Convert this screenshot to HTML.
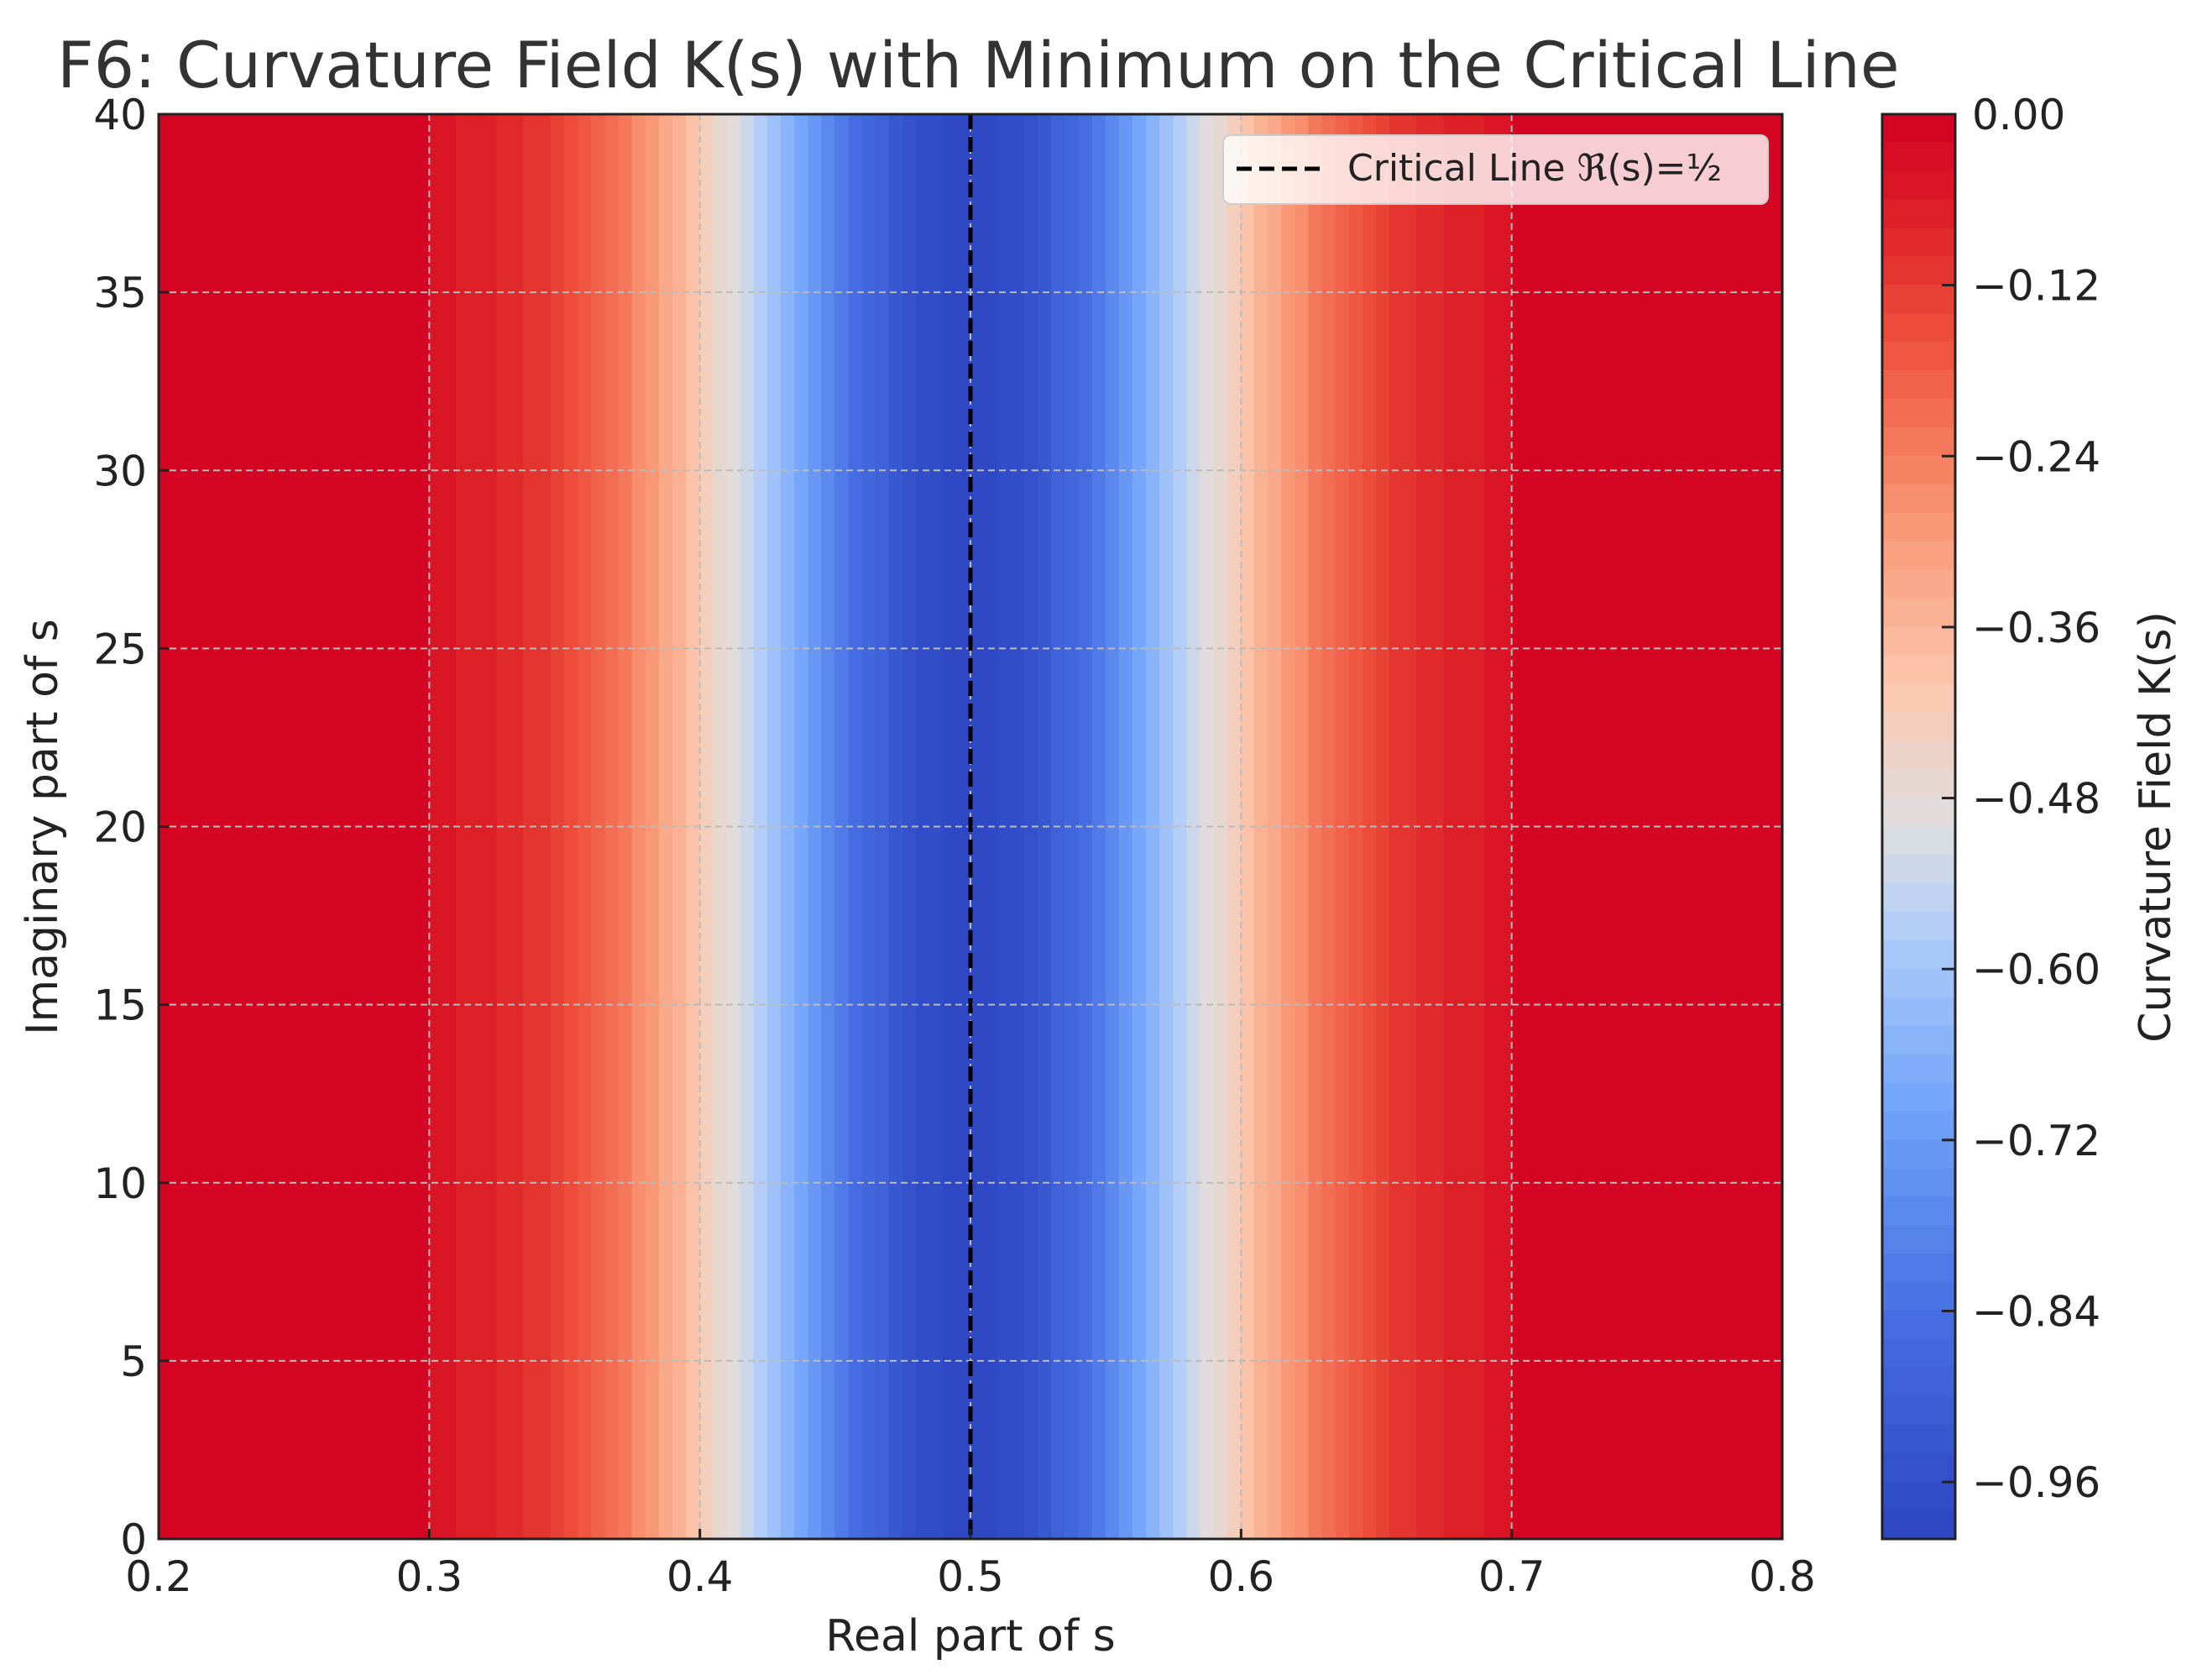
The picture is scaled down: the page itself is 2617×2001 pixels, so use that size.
<!DOCTYPE html>
<html><head><meta charset="utf-8"><style>
html,body{margin:0;padding:0;background:#fff}
svg{display:block;font-family:"DejaVu Sans","Liberation Sans",sans-serif}
</style></head><body>
<svg id="chart" width="2617" height="2001" viewBox="0 0 2617 2001" xmlns="http://www.w3.org/2000/svg">
<text x="68" y="104" font-size="76" fill="#333">F6: Curvature Field K(s) with Minimum on the Critical Line</text>
<g id="mesh"></g>
<g id="grid"></g>
<g id="axes"></g>
<g id="cbar"></g>
<text x="1156" y="1966" font-size="52" fill="#222" text-anchor="middle">Real part of s</text>
<text transform="translate(68,985) rotate(-90)" font-size="52" fill="#222" text-anchor="middle">Imaginary part of s</text>
<text transform="translate(2585,985) rotate(-90)" font-size="52" fill="#222" text-anchor="middle">Curvature Field K(s)</text>
<g>
<rect x="1457" y="161" width="649" height="82" rx="9" fill="#fff" fill-opacity="0.8" stroke="#ccc" stroke-width="2"/>
<line x1="1473" y1="201" x2="1574" y2="201" stroke="#000" stroke-width="5" stroke-dasharray="18,9"/>
<text x="1605" y="215" font-size="44" fill="#222">Critical Line ℜ(s)=½</text>
</g>
</svg>
<script>
const xStart=0.2;
const cellWidth=0.005;
const kLeft=[0,0,0,0,0,0,0,0,0,0,0,0,0,0,0,0,0,0,0,0,-0.045,-0.05,-0.055,-0.06,-0.068,-0.077,-0.088,-0.10,-0.11,-0.13,-0.145,-0.163,-0.183,-0.204,-0.229,-0.256,-0.286,-0.317,-0.351,-0.386,-0.422,-0.46,-0.50,-0.539,-0.58,-0.621,-0.662,-0.702,-0.741,-0.779,-0.815,-0.849,-0.88,-0.908,-0.934,-0.955,-0.973,-0.986,-0.995,-1.00];
const kRight=[-1.00,-0.995,-0.986,-0.973,-0.955,-0.934,-0.908,-0.88,-0.849,-0.815,-0.779,-0.741,-0.702,-0.662,-0.621,-0.58,-0.539,-0.50,-0.46,-0.422,-0.386,-0.351,-0.317,-0.286,-0.256,-0.229,-0.204,-0.183,-0.163,-0.145,-0.13,-0.11,-0.10,-0.088,-0.077,-0.068,-0.06,-0.055,-0.05,-0.045,0,0,0,0,0,0,0,0,0,0,0,0,0,0,0,0,0,0,0,0];
const kValues=kLeft.concat(kRight);
const xTicks=[0.2,0.3,0.4,0.5,0.6,0.7,0.8];
const xTickLabels=["0.2","0.3","0.4","0.5","0.6","0.7","0.8"];
const yTicks=[0,5,10,15,20,25,30,35,40];
const yTickLabels=["0","5","10","15","20","25","30","35","40"];
const cTicks=[0,-0.12,-0.24,-0.36,-0.48,-0.60,-0.72,-0.84,-0.96];
const cTickLabels=["0.00","−0.12","−0.24","−0.36","−0.48","−0.60","−0.72","−0.84","−0.96"];
const criticalX=0.5;
const NS="http://www.w3.org/2000/svg";
const L=189,R=2123,T=136,B=1833;
const xs=v=>L+(v-0.2)/0.6*(R-L);
const ys=v=>B-(v/40)*(B-T);
const CL=2242,CR=2329;
const cs=v=>T+(0-v)/1.0*(B-T);
const stops=[[0,[47,72,196]],[0.15,[70,110,225]],[0.3,[115,165,250]],[0.42,[175,204,250]],[0.5,[222,222,224]],[0.6,[252,200,175]],[0.72,[248,150,115]],[0.85,[238,80,60]],[0.93,[222,35,40]],[1,[212,5,35]]];
function cmap(v){let t=(v+1);t=Math.max(0,Math.min(1,t));t=Math.round(t*49)/49;
for(let i=0;i<stops.length-1;i++){const a=stops[i],b=stops[i+1];if(t<=b[0]){const f=(t-a[0])/(b[0]-a[0]);
return `rgb(${a[1].map((c,j)=>Math.round(c+(b[1][j]-c)*f)).join(',')})`;}}return 'rgb(212,5,35)';}
function mk(tag,attrs,parent){const e=document.createElementNS(NS,tag);for(const k in attrs)e.setAttribute(k,attrs[k]);parent.appendChild(e);return e;}
const mesh=document.getElementById('mesh');
kValues.forEach((k,i)=>{const x0=xStart+i*cellWidth;const r=mk('rect',{x:xs(x0)-0.5,y:T,width:xs(x0+cellWidth)-xs(x0)+1,height:B-T,fill:cmap(k)},mesh);

});
const grid=document.getElementById('grid');
xTicks.forEach(v=>{const l=mk('line',{x1:xs(v),y1:T,x2:xs(v),y2:B,stroke:'#bbb','stroke-width':2,'stroke-dasharray':'8,5'},grid);

});
yTicks.forEach(v=>{const l=mk('line',{x1:L,y1:ys(v),x2:R,y2:ys(v),stroke:'#bbb','stroke-width':2,'stroke-dasharray':'8,5'},grid);

});
const cl=mk('line',{x1:xs(criticalX),y1:T,x2:xs(criticalX),y2:B,stroke:'#000','stroke-width':5,'stroke-dasharray':'18,9'},grid);


const axes=document.getElementById('axes');
const fr=mk('rect',{x:L,y:T,width:R-L,height:B-T,fill:'none',stroke:'#222','stroke-width':3},axes);


xTicks.forEach((v,i)=>{mk('line',{x1:xs(v),y1:B,x2:xs(v),y2:B-12,stroke:'#222','stroke-width':3},axes);
const t=mk('text',{x:xs(v),y:B+62,'font-size':50,fill:'#222','text-anchor':'middle'},axes);t.textContent=xTickLabels[i];

});
yTicks.forEach((v,i)=>{mk('line',{x1:L,y1:ys(v),x2:L+12,y2:ys(v),stroke:'#222','stroke-width':3},axes);
const t=mk('text',{x:L-14,y:ys(v)+18,'font-size':50,fill:'#222','text-anchor':'end'},axes);t.textContent=yTickLabels[i];

});
const cbar=document.getElementById('cbar');
for(let k=0;k<50;k++){const v0=-k/50,v1=-(k+1)/50;const r=mk('rect',{x:CL,y:cs(v0)-0.5,width:CR-CL,height:cs(v1)-cs(v0)+1,fill:cmap((v0+v1)/2)},cbar);

}
const cf=mk('rect',{x:CL,y:T,width:CR-CL,height:B-T,fill:'none',stroke:'#222','stroke-width':3},cbar);


cTicks.forEach((v,i)=>{mk('line',{x1:CR,y1:cs(v),x2:CR-16,y2:cs(v),stroke:'#222','stroke-width':3},cbar);
const t=mk('text',{x:CR+20,y:cs(v)+18,'font-size':50,fill:'#222'},cbar);t.textContent=cTickLabels[i];

});
</script>
</body></html>
